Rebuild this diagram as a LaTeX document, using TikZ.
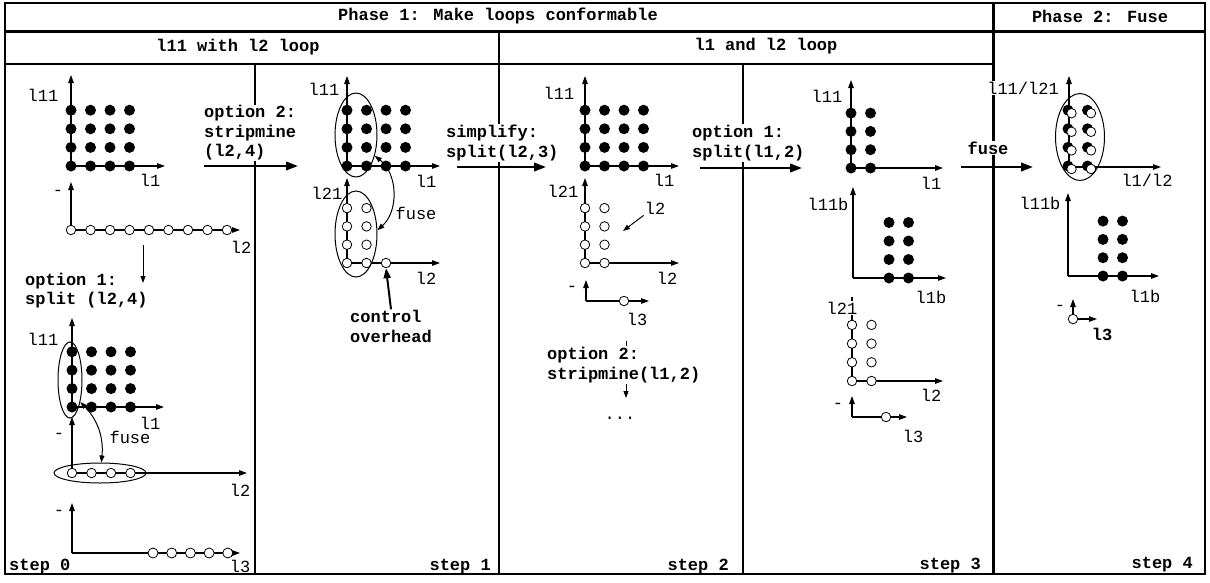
\documentclass[tikz,border=0pt]{standalone}
\usepackage{fontspec}
\setmainfont{Liberation Mono}
\usetikzlibrary{arrows.meta,shapes.geometric}
\begin{document}
\begin{tikzpicture}[x=1pt,y=-1pt,
  lbl/.style={font=\fontsize{17}{19.5}\selectfont, inner sep=1pt},
  blbl/.style={font=\fontsize{17}{19.5}\selectfont\bfseries, inner sep=1pt},
  wh/.style={fill=white},
  dot/.style={circle, fill=black, inner sep=0pt, minimum size=11pt},
  odot/.style={circle, draw, line width=0.8pt, fill=white, inner sep=0pt, minimum size=9.5pt,
    path picture={\fill (path picture bounding box.center) circle (0.55pt);}},
  pdot/.style={circle, draw, line width=0.8pt, fill=white, inner sep=0pt, minimum size=10pt},
  axis/.style={line width=1.1pt, -{Triangle[length=8pt,width=5.5pt]}},
  thin arrow/.style={line width=1pt, -{Triangle[length=7pt,width=5pt]}},
  big arrow/.style={line width=2.2pt, -{Triangle[length=12pt,width=8.5pt]}},
  fuse arrow/.style={line width=1pt, {Triangle[length=7pt,width=5pt]}-{Triangle[length=7pt,width=5pt]}},
  frame/.style={line width=1.3pt},
  heavy/.style={line width=3pt},
  oval/.style={ellipse, draw, line width=1pt, inner sep=0pt},
]
\useasboundingbox (0,0) rectangle (1210,582);
% ---------- frame ----------
\draw[frame] (5,3) rectangle (1205,574);
\draw[heavy] (5,31) -- (1205,31);
\draw[heavy] (993,3) -- (993,574);
\draw[frame] (5,64) -- (993,64);
\draw[frame] (499,31) -- (499,574);
\draw[frame] (255,64) -- (255,574);
\draw[frame] (743,64) -- (743,574);
\node[blbl] (ph1) at (498,16) {Phase 1: Make loops conformable};
\node[blbl] (ph2) at (1100,16) {Phase 2: Fuse};
\node[blbl] (hd1) at (238,47) {l11 with l2 loop};
\node[blbl] (hd2) at (766,46) {l1 and l2 loop};

% ================= step 0 =================
% grid A
\coordinate (A0) at (71,166); \coordinate (Ay) at (71,75); \coordinate (Ax) at (165,166);
\draw[axis] (A0) -- (Ay); \draw[axis] (A0) -- (Ax);
\foreach \i in {0,...,3}{\foreach \j in {0,...,3}{\node[dot] (a\i\j) at ({71+19.5*\i},{166-18.6*\j}) {};}}
\node[lbl] (Al1) at (43,95) {l11};
\node[lbl] (Al2) at (150,180) {l1};
% grid B
\coordinate (B0) at (71,230); \coordinate (By) at (71,182); \coordinate (Bx) at (240,230);
\draw[axis] (B0) -- (By); \draw[axis] (B0) -- (Bx);
\foreach \i in {0,...,8}{\node[odot] (b\i) at ({71+19.5*\i},230) {};}
\node[lbl] (Bl1) at (58,193) {-};
\node[lbl] (Bl2) at (241,247) {l2};
\coordinate (Bd1) at (143,245); \coordinate (Bd2) at (143,283);
\draw[thin arrow] (Bd1) -- (Bd2);
\node[blbl, anchor=west, align=left] (opt1) at (24,290.5) {option 1:\\split (l2,4)};
% grid C
\coordinate (C0) at (72,407); \coordinate (Cy) at (72,318); \coordinate (Cx) at (164,407);
\draw[axis] (C0) -- (Cy); \draw[axis] (C0) -- (Cx);
\foreach \i in {0,...,3}{\foreach \j in {0,...,3}{\node[dot] (c\i\j) at ({72+19.5*\i},{407-18.4*\j}) {};}}
\node[oval, minimum width=24pt, minimum height=76pt] (EC) at (70,380) {};
\node[lbl] (Cl1) at (43,339) {l11};
\node[lbl] (Cl2) at (150,423) {l1};
% grid D
\coordinate (D0) at (72,473); \coordinate (Dy) at (72,417); \coordinate (Dx) at (247,473);
\draw[axis] (D0) -- (Dy); \draw[axis] (D0) -- (Dx);
\foreach \i in {0,...,3}{\node[odot] (d\i) at ({72+19.5*\i},473) {};}
\node[oval, minimum width=92pt, minimum height=20pt] (ED) at (100,473) {};
\node[lbl] (Dl1) at (59,436) {-};
\node[lbl] (Dl2) at (240,490) {l2};
\draw[fuse arrow] (EC.-65) to[bend left=25] (ED.83);
\node[lbl] (fuse0) at (130,437) {fuse};
% grid E
\coordinate (E0) at (72,553); \coordinate (Ey) at (72,503); \coordinate (Ex) at (240,553);
\draw[axis] (E0) -- (Ey); \draw[axis] (E0) -- (Ex);
\foreach \i in {0,...,4}{\node[pdot] (e\i) at ({153+18.7*\i},553) {};}
\node[lbl] (El1) at (59,513) {-};
\node[lbl] (El2) at (240,566) {l3};
\node[blbl, anchor=west] (st0) at (8,567) {step 0};

% ================= step 1 =================
\node[blbl, wh, anchor=west, align=left] (opt2) at (203,133) {option 2:\\stripmine\\(l2,4)};
\coordinate (o2a) at (204,166); \coordinate (o2b) at (298,166);
\draw[big arrow] (o2a) -- (o2b);
% grid F
\coordinate (F0) at (347,166); \coordinate (Fy) at (347,76); \coordinate (Fx) at (440,166);
\draw[axis] (F0) -- (Fy); \draw[axis] (F0) -- (Fx);
\foreach \i in {0,...,3}{\foreach \j in {0,...,3}{\node[dot] (f\i\j) at ({347+19.5*\i},{166-18.6*\j}) {};}}
\node[oval, minimum width=42pt, minimum height=84pt] (EF) at (356,135) {};
\node[lbl] (Fl1) at (324,89) {l11};
\node[lbl] (Fl2) at (426,181) {l1};
% grid G
\coordinate (G0) at (347,263); \coordinate (Gy) at (347,178); \coordinate (Gx) at (440,263);
\draw[axis] (G0) -- (Gy); \draw[axis] (G0) -- (Gx);
\foreach \i in {0,1}{\foreach \j in {0,...,3}{\node[odot] (g\i\j) at ({347+19.5*\i},{263-18.3*\j}) {};}}
\node[odot] (gex) at (386,263) {};
\node[oval, minimum width=42pt, minimum height=86pt] (EG) at (356,234) {};
\node[lbl] (Gl1) at (327,193) {l21};
\node[lbl] (Gl2) at (426,278) {l2};
\draw[fuse arrow] (EF.-48) to[bend left=50] (EG.10);
\node[lbl] (fuse1) at (416,213) {fuse};
\node[blbl, anchor=west, align=left] (ctrl) at (349,326.5) {control\\overhead};
\draw[line width=2pt, -{Triangle[length=10pt,width=7pt]}] (ctrl.north) -- (gex.south);
\node[blbl, anchor=east] (st1) at (492,567) {step 1};

% ================= step 2 =================
\node[blbl, wh, anchor=west, align=left] (simp) at (445,143) {simplify:\\split(l2,3)};
\coordinate (s2a) at (457,167); \coordinate (s2b) at (546,167);
\draw[big arrow] (s2a) -- (s2b);
% grid H
\coordinate (H0) at (585,166); \coordinate (Hy) at (585,76); \coordinate (Hx) at (679,166);
\draw[axis] (H0) -- (Hy); \draw[axis] (H0) -- (Hx);
\foreach \i in {0,...,3}{\foreach \j in {0,...,3}{\node[dot] (h\i\j) at ({585+19.5*\i},{166-18.6*\j}) {};}}
\node[lbl] (Hl1) at (559,93) {l11};
\node[lbl] (Hl2) at (664,180) {l1};
% grid I
\coordinate (I0) at (585,263); \coordinate (Iy) at (585,178); \coordinate (Ix) at (679,263);
\draw[axis] (I0) -- (Iy); \draw[axis] (I0) -- (Ix);
\foreach \i in {0,1}{\foreach \j in {0,...,3}{\node[odot] (i\i\j) at ({585+19.5*\i},{263-18.3*\j}) {};}}
\node[lbl] (Il1) at (563,191) {l21};
\node[lbl] (Il2) at (667,278) {l2};
\node[lbl] (ptr) at (655,208) {l2};
\coordinate (ptrtip) at (623,231);
\draw[thin arrow] (ptr.south west) -- (ptrtip);
% grid J
\coordinate (J0) at (586,301); \coordinate (Jy) at (586,280); \coordinate (Jx) at (649,301);
\draw[axis] (J0) -- (Jy); \draw[axis] (J0) -- (Jx);
\node[odot] (j0) at (624,301) {};
\node[lbl] (Jl1) at (572,289) {-};
\node[lbl] (Jl2) at (637,319) {l3};
\coordinate (dn1) at (626,340.5); \coordinate (dn2) at (626,398);
\draw[thin arrow] (dn1) -- (dn2);
\node[blbl, wh, anchor=west, align=left] (opt2b) at (546,365) {option 2:\\stripmine(l1,2)};
\node[lbl] (dots) at (620,418) {...};
\node[blbl, anchor=east] (st2) at (730,567) {step 2};

% ================= step 3 =================
\node[blbl, wh, anchor=west, align=left] (opt1b) at (691,143) {option 1:\\split(l1,2)};
\coordinate (s3a) at (700,168); \coordinate (s3b) at (802,168);
\draw[big arrow] (s3a) -- (s3b);
% grid K
\coordinate (K0) at (851,168); \coordinate (Ky) at (851,80); \coordinate (Kx) at (943,168);
\draw[axis] (K0) -- (Ky); \draw[axis] (K0) -- (Kx);
\foreach \i in {0,1}{\foreach \j in {0,...,3}{\node[dot] (k\i\j) at ({851+19.5*\i},{168-18.3*\j}) {};}}
\node[lbl] (Kl1) at (827,96) {l11};
\node[lbl] (Kl2) at (931,183) {l1};
% grid L
\coordinate (L0) at (853,278); \coordinate (Ly) at (853,187); \coordinate (Lx) at (946,278);
\draw[axis] (L0) -- (Ly); \draw[axis] (L0) -- (Lx);
\foreach \i in {0,1}{\foreach \j in {0,...,3}{\node[dot] (l\i\j) at ({889+19.5*\i},{278-18.5*\j}) {};}}
\node[lbl] (Ll1) at (828,204) {l11b};
\node[lbl] (Ll2) at (931,297) {l1b};
% grid M
\coordinate (M0) at (852,381); \coordinate (My) at (852,297); \coordinate (Mx) at (943,381);
\draw[line width=1.1pt] (M0) -- (My); \draw[axis] (M0) -- (Mx);
\foreach \i in {0,1}{\foreach \j in {0,...,3}{\node[odot] (m\i\j) at ({852+19.5*\i},{381-18.7*\j}) {};}}
\node[lbl, wh] (Ml1) at (842,308) {l21};
\node[lbl] (Ml2) at (931,395) {l2};
% grid N
\coordinate (N0) at (852,417); \coordinate (Ny) at (852,396); \coordinate (Nx) at (907,417);
\draw[axis] (N0) -- (Ny); \draw[axis] (N0) -- (Nx);
\node[odot] (n0) at (886,417) {};
\node[lbl] (Nl1) at (838,406) {-};
\node[lbl] (Nl2) at (913,436) {l3};
\node[blbl, anchor=east] (st3) at (982,566) {step 3};

% ================= step 4 =================
\node[blbl, wh] (fuse4) at (988,148) {fuse};
\coordinate (s4a) at (961,167); \coordinate (s4b) at (1033,167);
\draw[big arrow] (s4a) -- (s4b);
% grid P
\coordinate (P0) at (1069,167); \coordinate (Py) at (1069,76); \coordinate (Px) at (1161,167);
\draw[axis] (P0) -- (Py); \draw[axis] (P0) -- (Px);
\foreach \i in {0,1}{\foreach \j in {0,...,3}{\node[dot] (p\i\j) at ({1068+19.5*\i},{166-18.6*\j}) {};}}
\foreach \i in {0,1}{\foreach \j in {0,...,3}{\node[odot] (q\i\j) at ({1071.5+19.5*\i},{169-18.6*\j}) {};}}
\node[oval, minimum width=49pt, minimum height=87pt] (EP) at (1080,137) {};
\node[lbl, wh] (Pl1) at (1023,88) {l11/l21};
\node[lbl] (Pl2) at (1147,180) {l1/l2};
% grid Q
\coordinate (Q0) at (1068,276); \coordinate (Qy) at (1068,193); \coordinate (Qx) at (1159,276);
\draw[axis] (Q0) -- (Qy); \draw[axis] (Q0) -- (Qx);
\foreach \i in {0,1}{\foreach \j in {0,...,3}{\node[dot] (r\i\j) at ({1103+19.5*\i},{276-18.3*\j}) {};}}
\node[lbl] (Ql1) at (1040,203) {l11b};
\node[lbl] (Ql2) at (1145,296) {l1b};
% grid R
\node[odot] (rc) at (1073,319) {};
\coordinate (Ry) at (1073,299); \coordinate (Rx) at (1097,319);
\draw[axis] (rc.north) -- (Ry); \draw[axis] (rc.east) -- (Rx);
\node[lbl] (Rl1) at (1060,308) {-};
\node[blbl] (Rl2) at (1102,334) {l3};
\node[blbl, anchor=east] (st4) at (1194,565) {step 4};
\end{tikzpicture}
\end{document}
